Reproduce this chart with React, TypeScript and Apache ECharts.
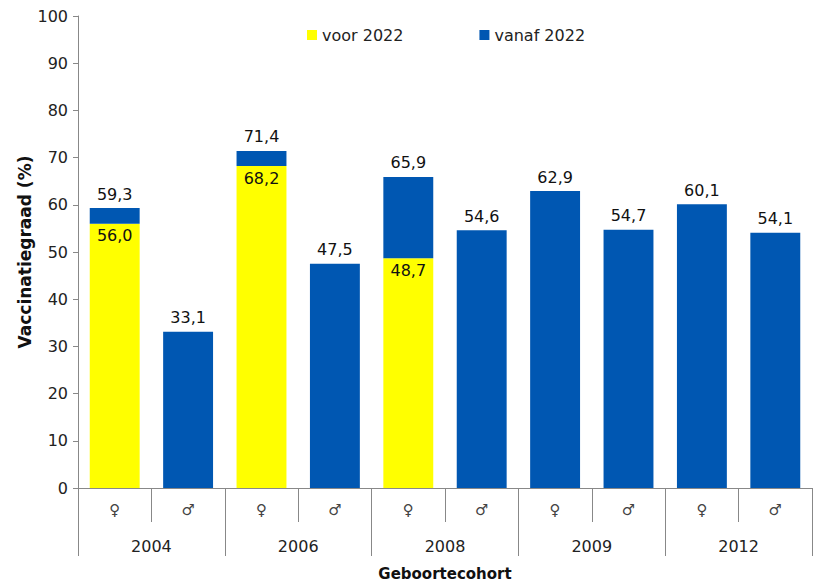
import React, { useEffect, useRef } from "react";
import * as echarts from "echarts";

const sexes = ["♀", "♂", "♀", "♂", "♀", "♂", "♀", "♂", "♀", "♂"];
const years = ["2004", "2006", "2008", "2009", "2012"];
const voor2022 = [56.0, null, 68.2, null, 48.7, null, null, null, null, null];
const vanaf2022 = [3.3, 33.1, 3.2, 47.5, 17.2, 54.6, 62.9, 54.7, 60.1, 54.1];
const totals = [59.3, 33.1, 71.4, 47.5, 65.9, 54.6, 62.9, 54.7, 60.1, 54.1];
const yTicks = [0, 10, 20, 30, 40, 50, 60, 70, 80, 90, 100];

const FONT = "DejaVu Sans";
const fmt = (v: number) => v.toFixed(1).replace(".", ",");

export default function App() {
  const ref = useRef<HTMLDivElement>(null);
  useEffect(() => {
    const chart = echarts.init(ref.current!, undefined, { renderer: "svg" });
    chart.setOption({
      animation: false,
      textStyle: { fontFamily: FONT },
      legend: {
        left: 302,
        top: 22,
        itemWidth: 10,
        itemHeight: 10,
        itemGap: 76,
        icon: "rect",
        textStyle: { fontFamily: FONT, fontSize: 16, color: "#222" },
        data: ["voor 2022", "vanaf 2022"],
      },
      grid: { left: 78, right: 1, top: 16, bottom: 96, outerBoundsMode: "none", containLabel: false },
      xAxis: [
        {
          type: "category",
          data: sexes,
          axisLine: { lineStyle: { color: "#888", width: 1 } },
          axisTick: { show: true, length: 34, interval: 0, lineStyle: { color: "#888" } },
          axisLabel: { interval: 0, margin: 14, fontSize: 15, color: "#444", fontFamily: FONT },
        },
        {
          type: "category",
          data: years,
          position: "bottom",
          axisLine: { show: false },
          axisTick: { show: true, length: 68, interval: 0, lineStyle: { color: "#888" } },
          axisLabel: { interval: 0, margin: 50, fontSize: 16, color: "#222", fontFamily: FONT },
          name: "Geboortecohort",
          nameLocation: "middle",
          nameGap: 78,
          nameMoveOverlap: false,
          nameTextStyle: { fontSize: 15, fontWeight: "bold", color: "#111", fontFamily: FONT },
        },
      ],
      yAxis: {
        type: "value",
        min: 0,
        max: 100,
        interval: 10,
        splitLine: { show: false },
        axisLine: { show: true, lineStyle: { color: "#888" } },
        axisTick: { show: true, length: 5, lineStyle: { color: "#888" } },
        axisLabel: {
          fontSize: 16,
          color: "#222",
          margin: 10,
          fontFamily: FONT,
          formatter: (v: number) => (yTicks.includes(v) ? String(v) : ""),
        },
        name: "Vaccinatiegraad (%)",
        nameLocation: "middle",
        nameRotate: 90,
        nameGap: 45,
        nameMoveOverlap: false,
        nameTextStyle: { fontSize: 17, fontWeight: "bold", color: "#111", fontFamily: FONT },
      },
      series: [
        {
          name: "voor 2022",
          type: "bar",
          stack: "a",
          xAxisIndex: 0,
          data: voor2022,
          barCategoryGap: "32%",
          itemStyle: { color: "#FFFF00" },
          label: {
            show: true,
            position: "insideTop",
            distance: 4,
            fontSize: 16,
            color: "#111",
            fontFamily: FONT,
            formatter: (p: any) => fmt(p.value),
          },
        },
        {
          name: "vanaf 2022",
          type: "bar",
          stack: "a",
          xAxisIndex: 0,
          data: vanaf2022,
          barCategoryGap: "32%",
          itemStyle: { color: "#0057B2" },
          label: {
            show: true,
            position: "top",
            distance: 6,
            fontSize: 16,
            color: "#111",
            fontFamily: FONT,
            formatter: (p: any) => fmt(totals[p.dataIndex]),
          },
        },
      ],
    });
    return () => chart.dispose();
  }, []);
  return (
    <div
      ref={ref}
      style={{ position: "fixed", left: 0, top: 0, width: 813, height: 584, background: "#fff" }}
    />
  );
}
